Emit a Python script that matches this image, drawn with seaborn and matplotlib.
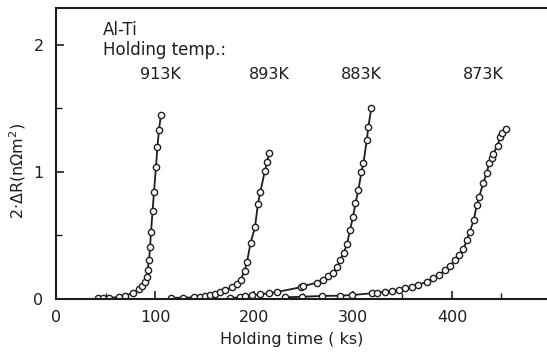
import pandas as pd
import matplotlib
matplotlib.use("Agg")
import matplotlib.pyplot as plt
import seaborn as sns
from matplotlib.ticker import MultipleLocator

# holding time (ks) and 2*dR (n ohm m^2)
t_913 = [42, 47, 54, 64, 70, 78, 84, 87, 90, 91.5, 92.5, 94, 95, 96, 97.5, 99,
         101, 102.5, 104, 106]
r_913 = [0.01, 0.01, 0.01, 0.015, 0.025, 0.05, 0.075, 0.105, 0.135, 0.175, 0.23,
         0.31, 0.41, 0.53, 0.69, 0.845, 1.04, 1.2, 1.33, 1.45]

t_893 = [116, 128, 139, 145, 151, 156, 161, 166, 171, 178, 183, 186.5, 190.5,
         193, 196.5, 201, 204, 206.5, 211, 213.5, 215]
r_893 = [0.01, 0.01, 0.013, 0.018, 0.024, 0.029, 0.037, 0.053, 0.071, 0.092,
         0.118, 0.15, 0.22, 0.294, 0.44, 0.565, 0.75, 0.845, 1.01, 1.08, 1.15]

t_883 = [176, 186, 191, 198, 206, 215, 223, 247, 250, 263.5, 270, 275, 280, 284,
         287, 290.5, 294, 297, 300, 302.5, 305.5, 308.5, 310.5, 314, 315.5, 318.5]
r_883 = [0.01, 0.012, 0.022, 0.03, 0.037, 0.045, 0.055, 0.092, 0.102, 0.128,
         0.15, 0.18, 0.207, 0.254, 0.307, 0.36, 0.433, 0.543, 0.648, 0.753,
         0.858, 1.0, 1.068, 1.252, 1.357, 1.5]

t_873 = [231, 249, 269, 287, 299, 319, 324, 332.5, 339, 346, 352.5, 359.5, 366,
         374.5, 381, 387, 393, 398, 403, 407.5, 411.5, 415, 418, 422, 425, 427.5,
         431.5, 435, 437.5, 440, 441.5, 446, 448.5, 450.5, 454.5]
r_873 = [0.013, 0.018, 0.024, 0.026, 0.031, 0.045, 0.05, 0.057, 0.066, 0.071,
         0.084, 0.097, 0.11, 0.137, 0.163, 0.189, 0.228, 0.26, 0.307, 0.346,
         0.391, 0.465, 0.53, 0.622, 0.74, 0.806, 0.91, 0.99, 1.068, 1.108,
         1.142, 1.207, 1.273, 1.305, 1.336]

temps = ["913K", "893K", "883K", "873K"]
label_x = [105, 215.5, 308, 432]

frames = []
for name, t, r in zip(temps, [t_913, t_893, t_883, t_873], [r_913, r_893, r_883, r_873]):
    frames.append(pd.DataFrame({"time": t, "dR": r, "temp": name}))
df = pd.concat(frames, ignore_index=True)

sns.set_style("ticks")
plt.rcParams["font.family"] = ["DejaVu Sans"]
plt.rcParams["mathtext.fontset"] = "dejavusans"

ink = "#1e1e1e"
fig = plt.figure(figsize=(5.47, 3.53), dpi=100)
ax = fig.add_axes([0.1024, 0.153, 0.8976, 0.824])

for name in temps:
    sub = df[df["temp"] == name]
    sns.lineplot(data=sub, x="time", y="dR", ax=ax, sort=False, estimator=None,
                 color=ink, lw=1.3, marker="o", ms=4.5, mfc="white", mec=ink,
                 mew=1.0, legend=False)

ax.set_xlim(0, 496)
ax.set_ylim(0, 2.29)
ax.xaxis.set_major_locator(MultipleLocator(100))
ax.xaxis.set_minor_locator(MultipleLocator(50))
ax.yaxis.set_major_locator(MultipleLocator(1))
ax.yaxis.set_minor_locator(MultipleLocator(0.5))
ax.tick_params(which="both", direction="in", colors=ink, labelcolor=ink,
               labelsize=11.5)
ax.tick_params(which="major", length=6, width=1.2)
ax.tick_params(which="minor", length=4, width=1.0)
ax.tick_params(axis="x", pad=8)
ax.tick_params(axis="y", pad=9)

for side in ["left", "bottom", "top"]:
    ax.spines[side].set_linewidth(1.5)
    ax.spines[side].set_color(ink)
ax.spines["right"].set_visible(False)

ax.set_xlabel("Holding time ( ks)", fontsize=11.5, color=ink)
ax.set_ylabel("2$\\cdot\\Delta$R(n$\\Omega$m$^2$)", fontsize=11.5, color=ink)
ax.xaxis.set_label_coords(0.48, -0.115)
ax.yaxis.set_label_coords(-0.058, 0.44)

ax.text(47, 2.118, "Al-Ti", fontsize=12, color=ink, va="center", ha="left")
ax.text(47, 1.96, "Holding temp.:", fontsize=12, color=ink, va="center", ha="left")
for name, x in zip(temps, label_x):
    ax.text(x, 1.764, name, fontsize=11.5, color=ink, va="center", ha="center")

fig.savefig("out.png", dpi=100)
